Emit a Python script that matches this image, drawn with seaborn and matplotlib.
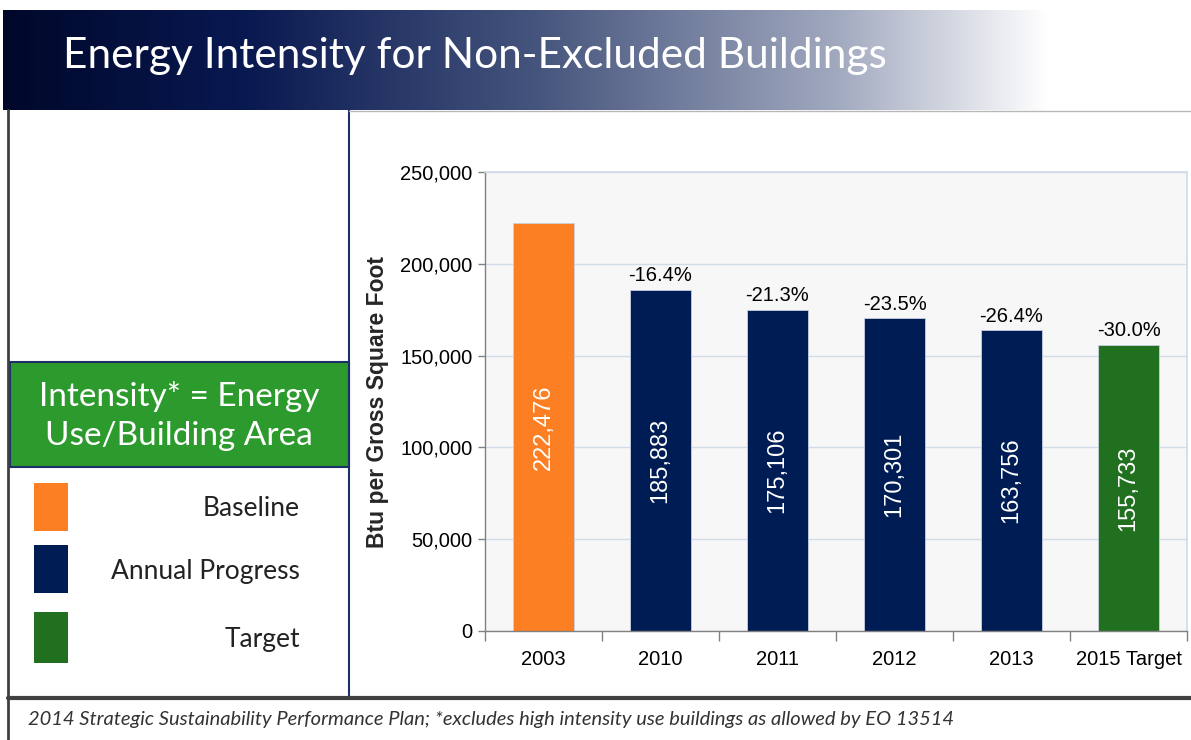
import numpy as np
import pandas as pd
import matplotlib
matplotlib.use("Agg")
import matplotlib.pyplot as plt
from matplotlib.patches import Rectangle
from matplotlib.lines import Line2D
import seaborn as sns

# data
categories = ["2003", "2010", "2011", "2012", "2013", "2015 Target"]
intensity = [222476, 185883, 175106, 170301, 163756, 155733]
pct_change = [None, "-16.4%", "-21.3%", "-23.5%", "-26.4%", "-30.0%"]
bar_colors = ["#fd7f23", "#001c54", "#001c54", "#001c54", "#001c54", "#217020"]
legend_labels = ["Baseline", "Annual Progress", "Target"]
legend_colors = ["#fd7f23", "#001c54", "#217020"]
yticks = [0, 50000, 100000, 150000, 200000, 250000]

W, H = 1191, 740
sns.set_theme(style="white")
plt.rcParams["font.family"] = ["Liberation Sans", "DejaVu Sans"]
deco_font = ["Lato", "DejaVu Sans"]

fig = plt.figure(figsize=(W / 100, H / 100), dpi=100)


def fx(x):
    return x / W


def fy(y):
    return 1 - y / H


# title bar with gradient
bar_ax = fig.add_axes([fx(3), fy(110), fx(W - 3), (110 - 10) / H])
xs = np.linspace(0, 1, 600)
stops = [0.0, 0.2, 0.45, 0.7, 0.88, 1.0]
cols = np.array([[0, 8, 42], [8, 24, 80], [70, 85, 125], [160, 168, 190],
                 [255, 255, 255], [255, 255, 255]]) / 255
grad = np.stack([np.interp(xs, stops, cols[:, i]) for i in range(3)], axis=-1)
bar_ax.imshow(grad[None, :, :], aspect="auto", extent=[0, 1, 0, 1])
bar_ax.set_axis_off()
fig.text(fx(63), fy(56), "Energy Intensity for Non-Excluded Buildings", color="white",
         fontsize=30.5, va="center", ha="left", family=deco_font)

# frame lines
fig.add_artist(Line2D([fx(8), fx(8)], [fy(110), fy(740)], color="#404040", lw=2))
fig.add_artist(Line2D([fx(349), fx(349)], [fy(110), fy(697)], color="#1c2f66", lw=1.5))
fig.add_artist(Line2D([fx(349), fx(W)], [fy(111), fy(111)], color="#b8b8b8", lw=1))
fig.add_artist(Line2D([fx(8), fx(W)], [fy(698), fy(698)], color="#404040", lw=3))

# definition box
fig.add_artist(Rectangle((fx(10), fy(467)), fx(339), (467 - 362) / H, facecolor="#2c9a2c",
                         edgecolor="#1c2f66", lw=1.5, transform=fig.transFigure))
fig.text(fx(179), fy(416), "Intensity* = Energy\nUse/Building Area", color="white", fontsize=24,
         ha="center", va="center", linespacing=1.35, family=deco_font)

# legend panel
sw_y = [483, 545, 612]
sw_h = [48, 48, 51]
for lab, col, y0, h in zip(legend_labels, legend_colors, sw_y, sw_h):
    fig.add_artist(Rectangle((fx(34), fy(y0 + h)), fx(34), h / H, facecolor=col,
                             edgecolor="none", transform=fig.transFigure))
    fig.text(fx(300), fy(y0 + h / 2 + 2), lab, color="#222222", fontsize=19, ha="right",
             va="center", family=deco_font)

# footer
fig.text(fx(28), fy(720), "2014 Strategic Sustainability Performance Plan; *excludes high intensity use buildings as allowed by EO 13514",
         fontsize=14.5, style="italic", color="#333333", ha="left", va="center",
         family=deco_font)

# chart
ax = fig.add_axes([fx(485), fy(631), fx(1187 - 485), (631 - 172) / H])
df = pd.DataFrame({"category": categories, "value": intensity})
sns.barplot(data=df, x="category", y="value", hue="category", palette=bar_colors,
            width=0.52, legend=False, ax=ax, saturation=1, edgecolor="#c8d0e0", linewidth=0.6)
ax.set_facecolor("#f7f7f7")
ax.set_ylim(0, 250000)
ax.set_xlim(-0.5, len(categories) - 0.5)
ax.set_yticks(yticks)
ax.set_yticklabels([f"{v:,}" for v in yticks], fontsize=14.5, color="black")
ax.yaxis.grid(True, color="#d0dcea", lw=1)
ax.set_axisbelow(True)
ax.set_xlabel("")
ax.set_ylabel("Btu per Gross Square Foot", fontsize=16.5, fontweight="bold", labelpad=8)
ax.tick_params(axis="x", which="major", length=0, labelsize=14.5, pad=14, colors="black")
ax.tick_params(axis="y", which="major", length=5, width=1, color="#808080", pad=4, left=True)
ax.set_xticks(np.arange(-0.5, len(categories), 1.0), minor=True)
ax.tick_params(axis="x", which="minor", length=7, width=1, color="#808080", bottom=True)
for s in ["left", "bottom"]:
    ax.spines[s].set_color("#808080")
    ax.spines[s].set_linewidth(1)
for s in ["top", "right"]:
    ax.spines[s].set_color("#d0dcea")

for i, (v, p) in enumerate(zip(intensity, pct_change)):
    ax.text(i, v / 2, f"{v:,}", rotation=90, color="white", fontsize=17,
            ha="center", va="center")
    if p:
        ax.text(i, v + 2500, p, color="black", fontsize=14.5, ha="center", va="bottom")

fig.savefig("out.png", dpi=100)
